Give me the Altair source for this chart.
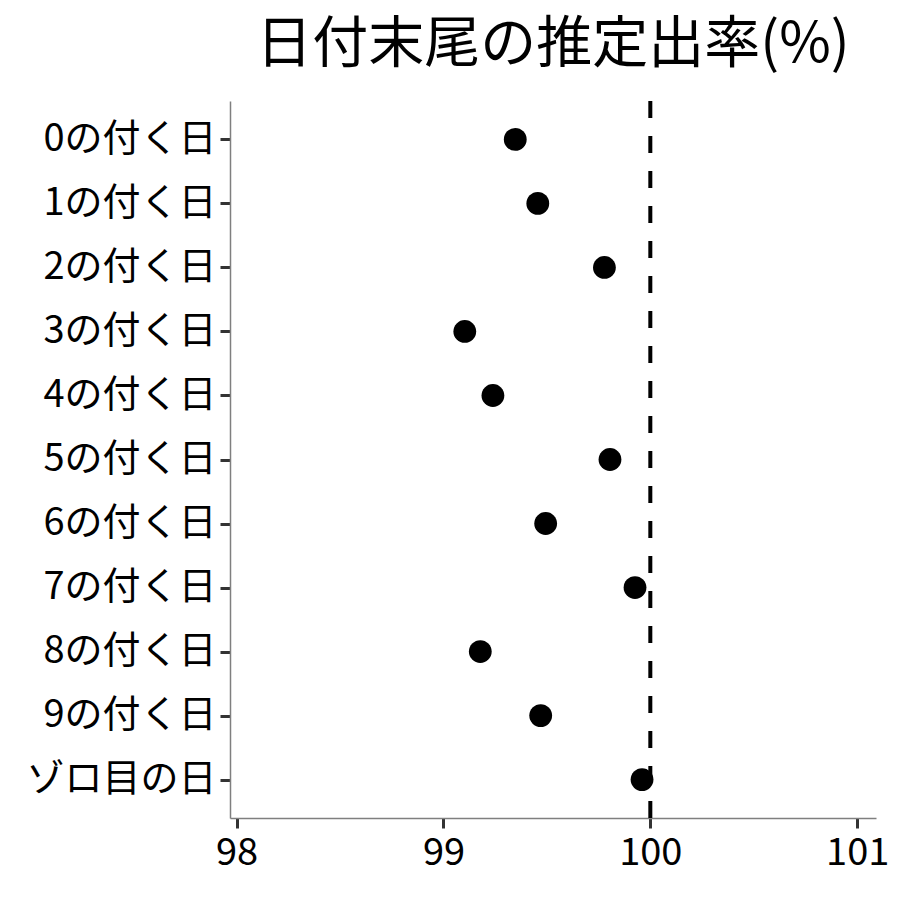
import altair as alt
import pandas as pd

categories = ["0の付く日", "1の付く日", "2の付く日", "3の付く日", "4の付く日",
              "5の付く日", "6の付く日", "7の付く日", "8の付く日", "9の付く日", "ゾロ目の日"]
rates = [99.347, 99.456, 99.778, 99.103, 99.239, 99.805, 99.494, 99.926, 99.178, 99.470, 99.960]
ref_value = [100]
x_ticks = [98, 99, 100, 101]

df = pd.DataFrame({"cat": categories, "rate": rates})
ref = pd.DataFrame({"v": ref_value})

FONT = "Noto Sans CJK JP"
xscale = alt.Scale(domain=[97.968, 101.091], nice=False, zero=False)

points = alt.Chart(df).mark_circle(size=520, color="black", opacity=1).encode(
    x=alt.X("rate:Q", scale=xscale, title=None,
            axis=alt.Axis(values=x_ticks, grid=False, format="d", labelPadding=6)),
    y=alt.Y("cat:N", sort=categories, title=None,
            scale=alt.Scale(padding=0.6),
            axis=alt.Axis(grid=False, labelPadding=4, labelLimit=400)),
)

vline = alt.Chart(ref).mark_rule(color="black", strokeWidth=4, strokeDash=[17, 18]).encode(
    x=alt.X("v:Q", scale=xscale)
)

chart = (vline + points).properties(
    width=646, height=717,
    title=alt.TitleParams("日付末尾の推定出率(%)", fontSize=56, font=FONT,
                          fontWeight="normal", anchor="middle", offset=25, color="black"),
    padding={"left": 222, "top": 93, "right": 16, "bottom": 70},
    autosize=alt.AutoSizeParams(type="none"),
    background="white",
).configure_view(stroke=None).configure_axis(
    labelFont=FONT, labelFontSize=38, labelColor="black",
    domainColor="#7f7f7f", domainWidth=1.5,
    tickColor="#333333", tickWidth=3, tickSize=10,
)

chart.save("out.html", embed_options={"renderer": "svg", "actions": False})
